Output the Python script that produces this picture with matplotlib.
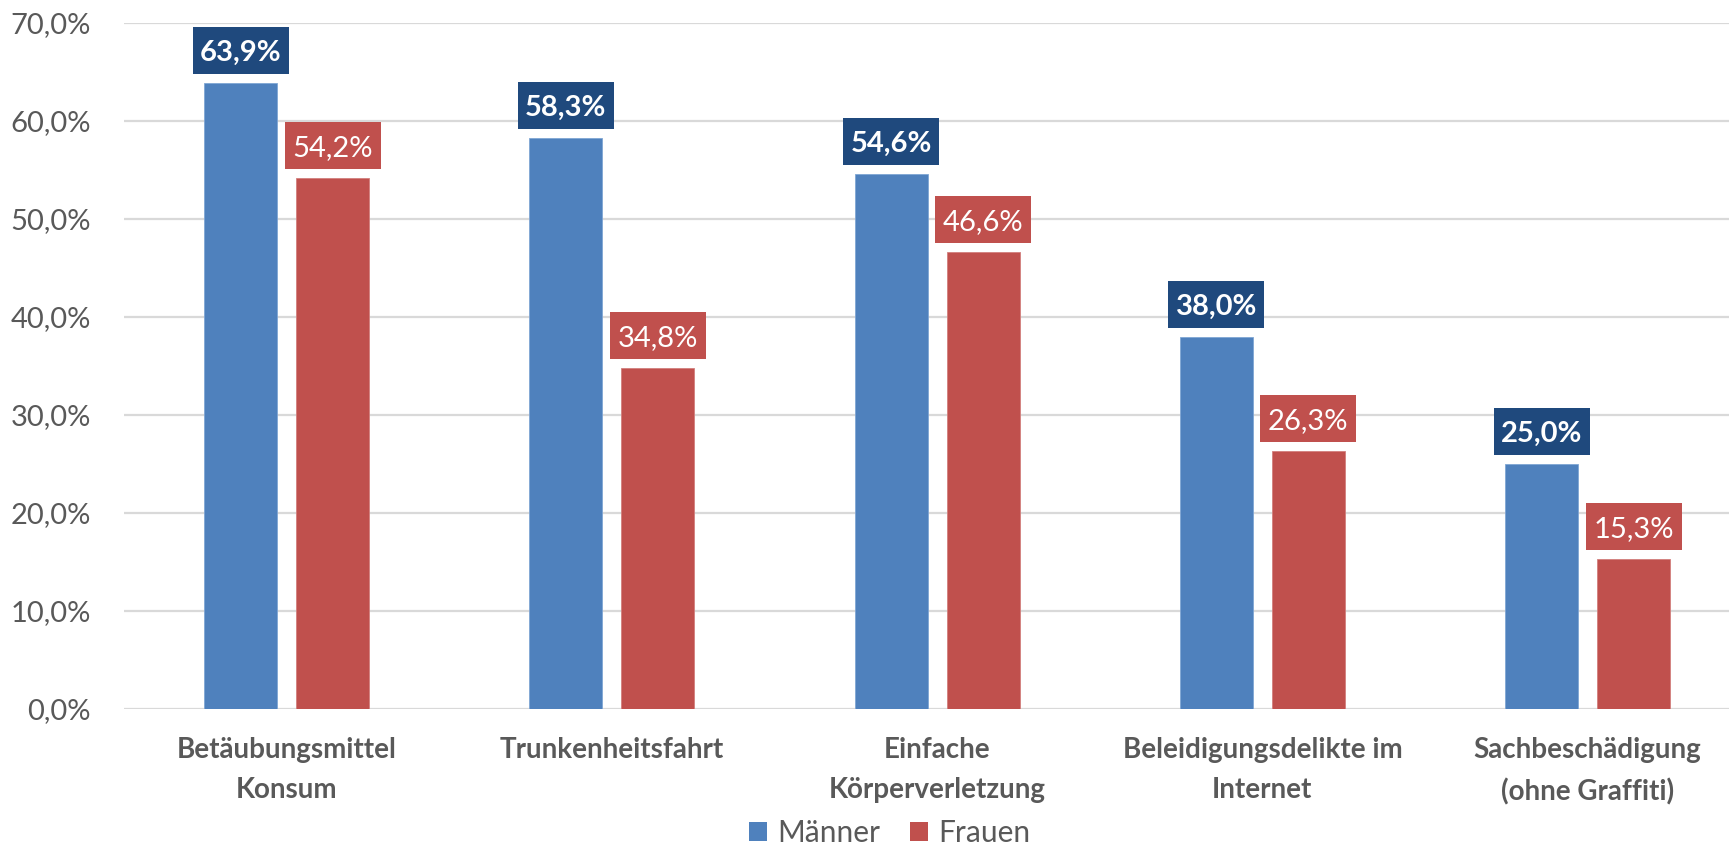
import numpy as np
import matplotlib
matplotlib.use("Agg")
import matplotlib.pyplot as plt
from matplotlib.patches import Rectangle, Patch

categories = ["Betäubungsmittel\nKonsum", "Trunkenheitsfahrt", "Einfache\nKörperverletzung",
              "Beleidigungsdelikte im\nInternet", "Sachbeschädigung\n(ohne Graffiti)"]
maenner = [63.9, 58.3, 54.6, 38.0, 25.0]
frauen = [54.2, 34.8, 46.6, 26.3, 15.3]
series_names = ["Männer", "Frauen"]

BLUE = "#4F81BD"
RED = "#C0504D"
DARKBLUE = "#1F497D"
GREY = "#595959"

plt.rcParams["font.family"] = ["Lato", "DejaVu Sans"]

fig = plt.figure(figsize=(17.29, 8.55), dpi=100)
ax = fig.add_axes([124/1729, 1 - 709/855, 1 - 124/1729, (709 - 23)/855])

x = np.arange(len(categories))
bw = 0.2246
off = 0.1414
ax.bar(x - off, maenner, bw, color=BLUE, edgecolor="#7FA6D4", linewidth=0.6, zorder=3)
ax.bar(x + off, frauen, bw, color=RED, edgecolor="#D27F7D", linewidth=0.6, zorder=3)

ax.set_xlim(-0.5, -0.5 + (1729 - 124) / 325.25)
ax.set_ylim(0, 70)
ax.set_yticks(np.arange(0, 71, 10))
ax.set_yticklabels([f"{v:.1f}%".replace(".", ",") for v in np.arange(0, 71, 10)])
ax.yaxis.grid(True, color="#D9D9D9", linewidth=1.6, zorder=0)
ax.set_axisbelow(True)
for sp_ in ax.spines.values():
    sp_.set_visible(False)
ax.tick_params(axis="y", length=0, labelsize=21, labelcolor=GREY, pad=24)
ax.tick_params(axis="x", length=0)
ax.set_xticks(x)
ax.set_xticklabels(categories, fontsize=20, fontweight="bold", color=GREY, linespacing=1.66)
for lbl in ax.get_xticklabels():
    lbl.set_verticalalignment("top")
ax.tick_params(axis="x", pad=20.5)

# value label boxes (sizes in pixels converted to data units)
px_y = 70 / 686.0
px_x = 1 / 325.25
box_w = 96 * px_x
box_h = 47 * px_y
gap = 9 * px_y
for vals, dx, fc, weight in [(maenner, -off, DARKBLUE, "bold"), (frauen, off, RED, "normal")]:
    for xi, v in zip(x, vals):
        cx = xi + dx
        y0 = v + gap
        ax.add_patch(Rectangle((cx - box_w / 2, y0), box_w, box_h, facecolor=fc,
                               edgecolor="none", zorder=4, clip_on=False))
        ax.text(cx, y0 + box_h / 2, f"{v:.1f}%".replace(".", ","), ha="center", va="center_baseline",
                color="white", fontsize=21, fontweight=weight, zorder=5)

handles = [Patch(facecolor=BLUE, edgecolor="none"), Patch(facecolor=RED, edgecolor="none")]
fig.legend(handles, series_names, loc="lower center", bbox_to_anchor=(890 / 1729, -0.022),
           ncol=2, frameon=False, fontsize=21.5, handlelength=0.6, handleheight=0.6,
           handletextpad=0.35, columnspacing=1.0, labelcolor=GREY)

fig.savefig("out.png", dpi=100)
